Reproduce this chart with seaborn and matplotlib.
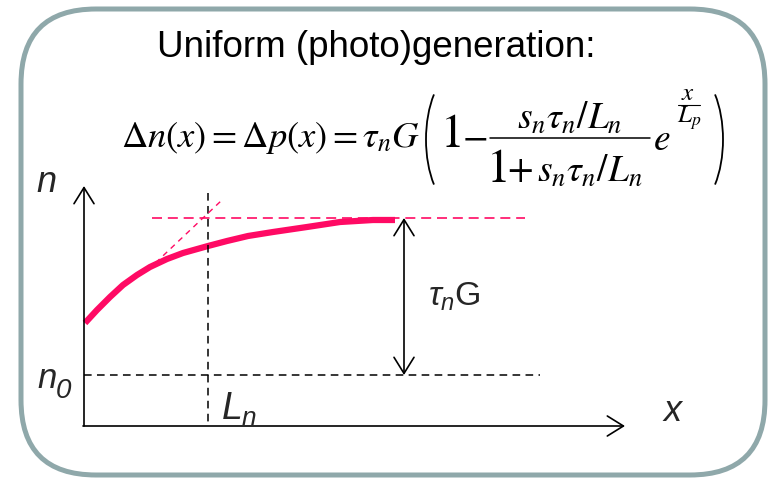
import matplotlib
matplotlib.use("Agg")
import matplotlib.pyplot as plt
from matplotlib.patches import FancyBboxPatch, Arc
import seaborn as sns
import pandas as pd

# Carrier profile n(x) sketched across the device (drawing units, y grows downward)
curve_x = [85, 97, 110, 123, 137, 150, 167, 183, 208, 227, 248, 273, 307, 340, 373, 395]
curve_y = [323, 310, 297, 285, 275, 267, 259, 253, 246, 241, 236, 232, 227, 222, 220, 220]

title_text = "Uniform (photo)generation:"
eq_lhs = r"$\Delta n(x)=\Delta p(x)=\tau_n G$"
eq_one = r"$1$"
eq_minus = r"$-$"
eq_num = r"$s_n\tau_n/L_n$"
eq_den = r"$+\,s_n\tau_n/L_n$"
eq_e = r"$e$"
eq_exp_num = r"$x$"
eq_exp_den = r"$L_p$"
label_n = r"$n$"
label_Ln = r"$L_n$"
label_x = r"$x$"
label_gap = r"$\tau_n\mathrm{G}$"

PINK = "#FF0A64"
FRAME = "#8FA8AA"

sns.set_style("white")
plt.rcParams["font.family"] = ["Liberation Sans", "DejaVu Sans"]
plt.rcParams["mathtext.fontset"] = "custom"
plt.rcParams["mathtext.rm"] = "Liberation Sans"
plt.rcParams["mathtext.it"] = "Liberation Sans:italic"
plt.rcParams["mathtext.bf"] = "Liberation Sans:bold"

W, H = 772, 478
fig = plt.figure(figsize=(W / 100, H / 100), dpi=100)
ax = fig.add_axes([0, 0, 1, 1])

# carrier profile
df = pd.DataFrame({"x": curve_x, "n": curve_y})
sns.lineplot(data=df, x="x", y="n", ax=ax, color=PINK, lw=4.5, sort=False,
             solid_capstyle="butt", solid_joinstyle="round")
ax.set_xlim(0, W)
ax.set_ylim(H, 0)
ax.axis("off")

# rounded frame
frame = FancyBboxPatch((21, 9), 744, 466, boxstyle="round,pad=0,rounding_size=75",
                       fill=False, edgecolor=FRAME, linewidth=3.6)
ax.add_patch(frame)

# heading
ax.text(376, 57, title_text, fontsize=26.5, ha="center", va="baseline", color="black")

# equation, set piece by piece in a Times-like face
eq = dict(math_fontfamily="stix", va="baseline", color="black")
ax.text(121, 147, eq_lhs, fontsize=26.3, ha="left", **eq)
ax.add_patch(Arc((460, 139.5), 68, 140, theta1=120, theta2=240, lw=1.3, color="black"))
ax.text(440, 147, eq_one, fontsize=34, ha="left", **eq)
ax.text(475, 147, eq_minus, fontsize=27, ha="center", **eq)
ax.plot([490, 650], [137.5, 137.5], color="black", lw=1.1)
ax.text(570, 129, eq_num, fontsize=27, ha="center", **eq)
ax.text(486, 182, eq_one, fontsize=34, ha="left", **eq)
ax.text(507, 182, eq_den, fontsize=27, ha="left", **eq)
ax.text(653, 150, eq_e, fontsize=27, ha="left", **eq)
ax.text(688, 100, eq_exp_num, fontsize=18, ha="center", **eq)
ax.plot([678, 700], [105, 105], color="black", lw=0.8)
ax.text(689, 123, eq_exp_den, fontsize=18, ha="center", **eq)
ax.add_patch(Arc((689, 139.5), 68, 140, theta1=-60, theta2=60, lw=1.3, color="black"))

# axis labels
ax.text(36, 192, label_n, fontsize=26, ha="left", va="baseline")
ax.text(37, 388, "n", fontsize=25, style="italic", ha="left", va="baseline")
ax.text(56, 398, "0", fontsize=20, style="italic", ha="left", va="baseline")
ax.text(221, 420, label_Ln, fontsize=27, ha="left", va="baseline")
ax.text(662, 421, label_x, fontsize=26, ha="left", va="baseline")
ax.text(428, 306, label_gap, fontsize=24.5, ha="left", va="baseline")

# reference levels
origin_x, origin_y = 84, 426
n0_level = 375
sat_level = 218
Ln_pos = 208

ax.plot([origin_x, 540], [n0_level, n0_level], color="black", lw=1.1, dashes=(5, 3.5))
ax.plot([Ln_pos, Ln_pos], [193, origin_y], color="black", lw=1.1, dashes=(5, 3.5))
ax.plot([152, 525], [sat_level, sat_level], color=PINK, lw=1.2, dashes=(6, 3.5))
ax.plot([148, 222], [270, 200], color=PINK, lw=1.0, dashes=(4, 3.5))

# axes arrows
arrow = dict(arrowstyle="->,head_length=0.58,head_width=0.36", lw=1.2, color="black",
             shrinkA=0, shrinkB=0, mutation_scale=20)
ax.annotate("", xy=(origin_x, 186), xytext=(origin_x, origin_y), arrowprops=arrow)
ax.annotate("", xy=(625, origin_y), xytext=(origin_x - 1, origin_y), arrowprops=arrow)
darrow = dict(arrowstyle="<->,head_length=0.58,head_width=0.36", lw=1.2, color="black",
              shrinkA=0, shrinkB=0, mutation_scale=20)
ax.annotate("", xy=(404, sat_level), xytext=(404, n0_level), arrowprops=darrow)

fig.savefig("out.png", dpi=100)
